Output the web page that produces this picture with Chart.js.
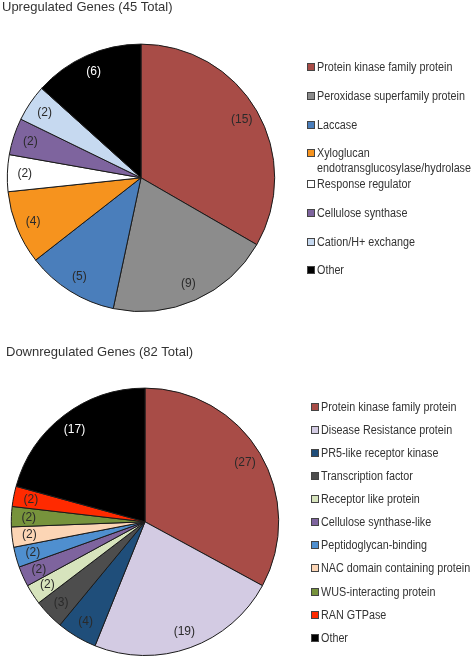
<!DOCTYPE html>
<html>
<head>
<meta charset="utf-8">
<script src="https://cdn.jsdelivr.net/npm/chart.js@4"></script>
<style>
  html, body { margin: 0; padding: 0; background: #fff; }
  #wrap { position: relative; width: 472px; height: 657px; overflow: hidden; }
  canvas { position: absolute; left: 0; }
  .legend { position: absolute; font-family: "Liberation Sans", Arial, sans-serif; font-size: 12px; color: #333; }
  .item { position: absolute; white-space: nowrap; line-height: 15px; }
  .txt { display: inline-block; transform-origin: 0 0; }
  .box { position: absolute; width: 8px; height: 8px; border: 1px solid #444; box-sizing: border-box; top: 3px; }
</style>
</head>
<body>
<div id="wrap">
  <canvas id="upChart" width="472" height="330" style="top:0"></canvas>
  <canvas id="downChart" width="472" height="327" style="top:330px"></canvas>
  <div id="upLegend" class="legend"></div>
  <div id="downLegend" class="legend"></div>
</div>
<script>
const upLabels = [
  "Protein kinase family protein",
  "Peroxidase superfamily protein",
  "Laccase",
  ["Xyloglucan", "endotransglucosylase/hydrolase"],
  "Response regulator",
  "Cellulose synthase",
  "Cation/H+ exchange",
  "Other"
];
const upValues = [15, 9, 5, 4, 2, 2, 2, 6];
const upColors = ["#a84c47", "#8c8c8c", "#4a7ebb", "#f6931e", "#ffffff", "#7e649e", "#c6d9f0", "#000000"];

const downLabels = [
  "Protein kinase family protein",
  "Disease Resistance protein",
  "PR5-like receptor kinase",
  "Transcription factor",
  "Receptor like protein",
  "Cellulose synthase-like",
  "Peptidoglycan-binding",
  "NAC domain containing protein",
  "WUS-interacting protein",
  "RAN GTPase",
  "Other"
];
const downValues = [27, 19, 4, 3, 2, 2, 2, 2, 2, 2, 17];
const downColors = ["#a84c47", "#d3cbe3", "#1f4e7a", "#4d4d4d", "#d7e4bd", "#7e649e", "#4f8fcf", "#fcd5b5", "#77933c", "#ff2a00", "#000000"];

// "(n)" labels drawn near the outer edge of each slice
const sliceLabels = {
  id: "sliceLabels",
  afterDatasetsDraw(chart) {
    const ctx = chart.ctx;
    const meta = chart.getDatasetMeta(0);
    const ds = chart.data.datasets[0];
    ctx.save();
    ctx.font = "12px 'Liberation Sans', Arial, sans-serif";
    ctx.textAlign = "center";
    ctx.textBaseline = "middle";
    meta.data.forEach(function (arc, i) {
      const p = arc.getProps(["x", "y", "startAngle", "endAngle", "outerRadius"], true);
      const mid = (p.startAngle + p.endAngle) / 2;
      const r = p.outerRadius * 0.87;
      ctx.fillStyle = ds.backgroundColor[i] === "#000000" ? "#ffffff" : "#2a2a2a";
      ctx.fillText("(" + ds.data[i] + ")", p.x + Math.cos(mid) * r, p.y + Math.sin(mid) * r);
    });
    ctx.restore();
  }
};

function makePie(id, title, labels, values, colors, padding, titlePad) {
  return new Chart(document.getElementById(id), {
    type: "pie",
    data: {
      labels: labels,
      datasets: [{
        data: values,
        backgroundColor: colors,
        borderColor: "#1a1a1a",
        borderWidth: 1
      }]
    },
    options: {
      responsive: false,
      animation: false,
      layout: { padding: padding },
      plugins: {
        legend: { display: false },
        tooltip: { enabled: false },
        title: {
          display: true,
          text: title,
          align: "start",
          color: "#333",
          font: { family: "'Liberation Sans', Arial, sans-serif", size: 13, weight: "normal" },
          padding: titlePad
        }
      }
    },
    plugins: [sliceLabels]
  });
}

makePie("upChart", "Upregulated Genes (45 Total)", upLabels, upValues, upColors,
  { left: 2, right: 192, top: 0, bottom: 18 }, { top: 0, bottom: 28 });
makePie("downChart", "Downregulated Genes (82 Total)", downLabels, downValues, downColors,
  { left: 6, right: 188, top: 0, bottom: 1 }, { top: 15, bottom: 27 });

// side legends built from the same arrays
function buildLegend(elId, labels, colors, boxX, textX, rowsY) {
  const el = document.getElementById(elId);
  const spans = [];
  labels.forEach(function (lab, i) {
    const item = document.createElement("div");
    item.className = "item";
    item.style.left = textX + "px";
    item.style.top = (rowsY[i] - 7) + "px";
    const txt = document.createElement("span");
    txt.className = "txt";
    txt.innerHTML = Array.isArray(lab) ? lab.join("<br>") : lab;
    item.appendChild(txt);
    const box = document.createElement("div");
    box.className = "box";
    box.style.left = (boxX - textX) + "px";
    box.style.background = colors[i];
    item.appendChild(box);
    el.appendChild(item);
    spans.push(txt);
  });
  return spans;
}
const upSpans = buildLegend("upLegend", upLabels, upColors, 307, 317, [67, 96, 125, 153, 184, 213, 242, 270]);
const downSpans = buildLegend("downLegend", downLabels, downColors, 311, 321,
  [407, 430, 453, 476, 499, 522, 545, 568, 592, 615, 638]);

// squeeze the text to the narrow width of the original face
const squeeze = 148 / upSpans[1].getBoundingClientRect().width;
upSpans.concat(downSpans).forEach(function (s) {
  s.style.transform = "scaleX(" + squeeze + ")";
});
</script>
</body>
</html>
